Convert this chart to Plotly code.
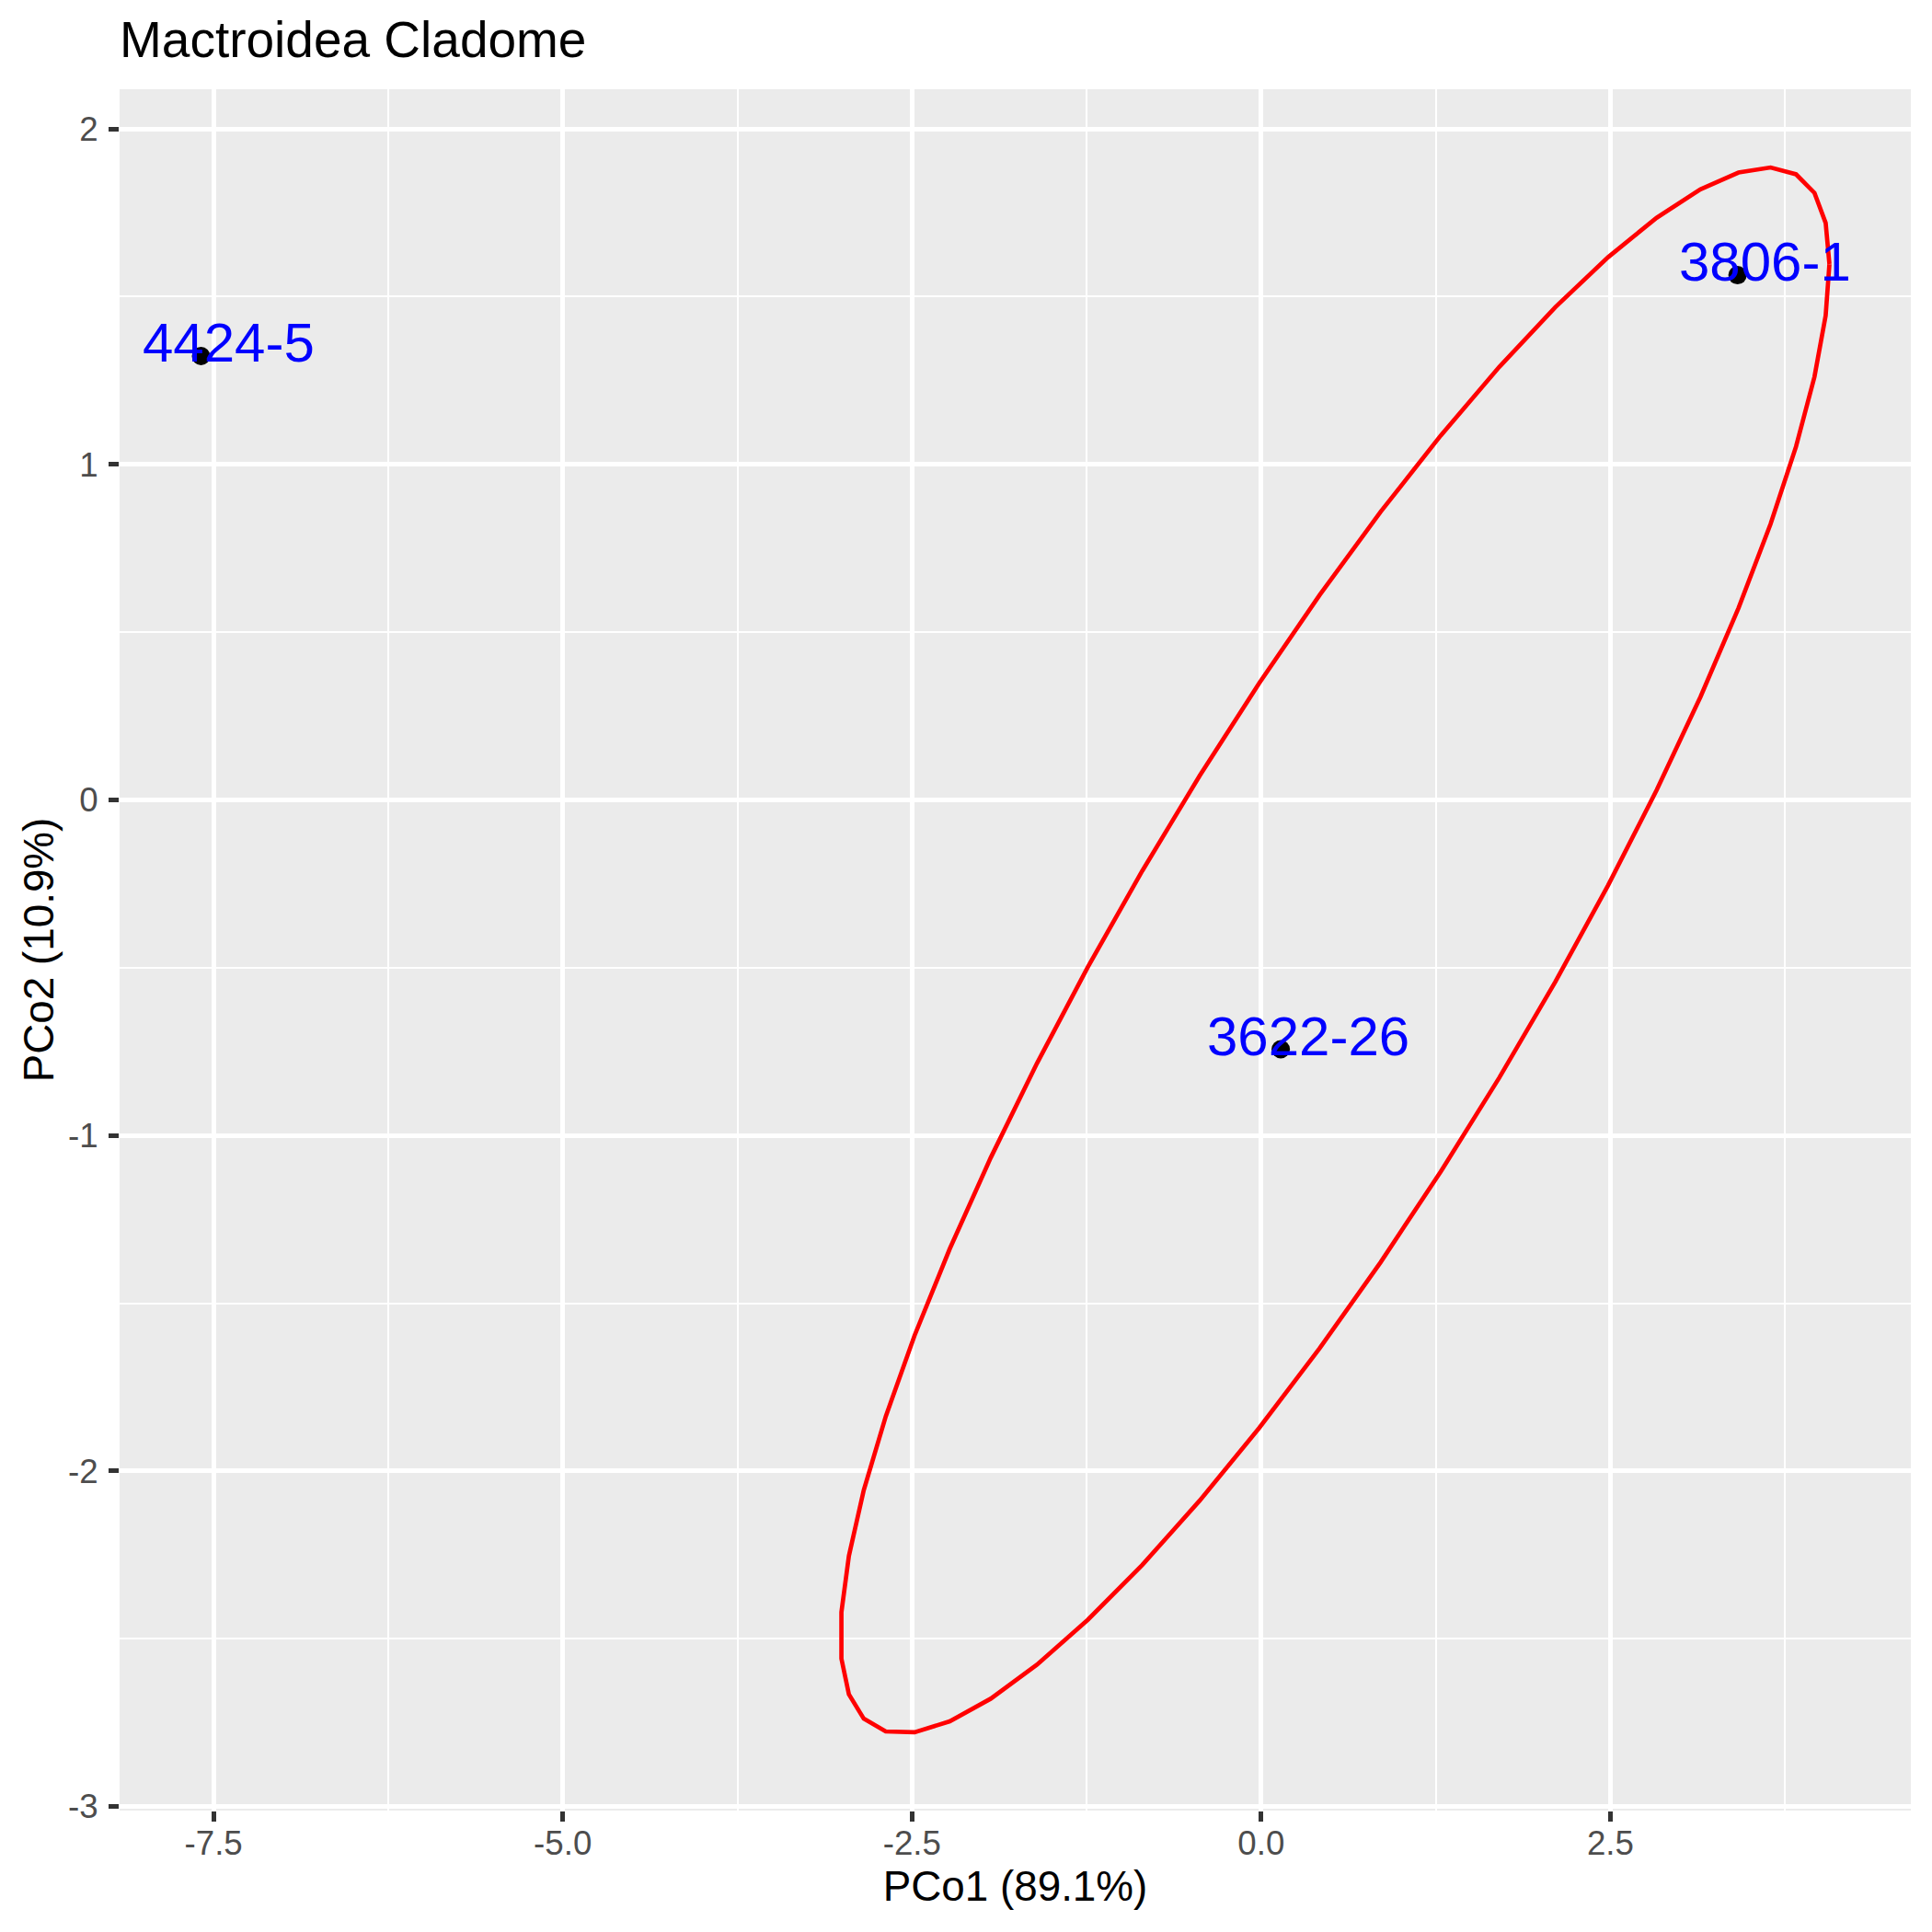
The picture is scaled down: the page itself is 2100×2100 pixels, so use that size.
import numpy as np
import plotly.graph_objects as go

# ---- data ----
sample_ids = ["4424-5", "3806-1", "3622-26"]
pco1 = [-7.59, 3.41, 0.14]
pco2 = [1.323, 1.564, -0.743]

x_tick_vals = [-7.5, -5.0, -2.5, 0.0, 2.5]
x_tick_text = ["-7.5", "-5.0", "-2.5", "0.0", "2.5"]
y_tick_vals = [-3, -2, -1, 0, 1, 2]
y_tick_text = ["-3", "-2", "-1", "0", "1", "2"]

# ellipse (stat_ellipse-like: centre + unit circle %*% chol(shape) * radius)
ell_center = [0.528, -0.4485]
ell_chol = [[3.54, 2.0455], [0.0, 1.123]]  # upper-triangular, radius applied
ell_segments = 51

label_nudge = [0.2, 0.05]

# ---- ellipse geometry ----
t = np.linspace(0, 2 * np.pi, ell_segments + 1)
circle = np.column_stack([np.cos(t), np.sin(t)])
ell = circle @ np.array(ell_chol) + np.array(ell_center)
ell_x, ell_y = ell[:, 0], ell[:, 1]

# ggplot-like 5% expansion
all_x = np.concatenate([pco1, ell_x])
all_y = np.concatenate([pco2, ell_y])
xr = [all_x.min(), all_x.max()]
yr = [all_y.min(), all_y.max()]
dx = (xr[1] - xr[0]) * 0.05
dy = (yr[1] - yr[0]) * 0.05
x_range = [xr[0] - dx, xr[1] + dx]
y_range = [yr[0] - dy, yr[1] + dy]

FONT = "Liberation Sans, Arial, Helvetica, sans-serif"
W = H = 2092  # page body adds an 8px margin

fig = go.Figure()
fig.add_trace(go.Scatter(
    x=ell_x, y=ell_y, mode="lines",
    line=dict(color="#FF0000", width=4.7),
    hoverinfo="skip", showlegend=False,
))
fig.add_trace(go.Scatter(
    x=pco1, y=pco2, mode="markers",
    marker=dict(color="black", size=20, line=dict(width=0)),
    showlegend=False,
))

for sid, px, py in zip(sample_ids, pco1, pco2):
    fig.add_annotation(
        x=px + label_nudge[0], y=py + label_nudge[1], xref="x", yref="y",
        text=sid, showarrow=False, xanchor="center", yanchor="middle",
        yshift=-4,
        font=dict(family=FONT, size=60, color="#0000FF"),
    )

axis_common = dict(
    showline=False, zeroline=False,
    gridcolor="white", gridwidth=4.7,
    ticks="outside", ticklen=11, tickwidth=4.7, tickcolor="#333333",
    tickfont=dict(family=FONT, size=36.7, color="#4D4D4D"),
    showgrid=True,
)

fig.update_layout(
    width=W, height=H,
    margin=dict(l=122, r=23, t=89, b=132, autoexpand=False),
    paper_bgcolor="white", plot_bgcolor="#EBEBEB",
    title=dict(
        text="Mactroidea Cladome", x=0, xref="paper", xanchor="left",
        y=1 - 35 / H, yref="container", yanchor="middle",
        font=dict(family=FONT, size=55, color="black"),
    ),
    xaxis=dict(
        **axis_common, range=x_range, autorange=False,
        tickvals=x_tick_vals, ticktext=x_tick_text,
        minor=dict(dtick=1.25, tick0=0, showgrid=True, gridcolor="white",
                   gridwidth=2.3, ticks=""),
        title=dict(text="PCo1 (89.1%)", standoff=10,
                   font=dict(family=FONT, size=45.8, color="black")),
        ticklabelstandoff=-8,
    ),
    yaxis=dict(
        **axis_common, range=y_range, autorange=False,
        tickvals=y_tick_vals, ticktext=y_tick_text,
        minor=dict(dtick=0.5, tick0=0, showgrid=True, gridcolor="white",
                   gridwidth=2.3, ticks=""),
        title=dict(text="PCo2 (10.9%)", standoff=1,
                   font=dict(family=FONT, size=45.8, color="black")),
        ticklabelstandoff=4,
    ),
)

fig.write_html("out.html")
